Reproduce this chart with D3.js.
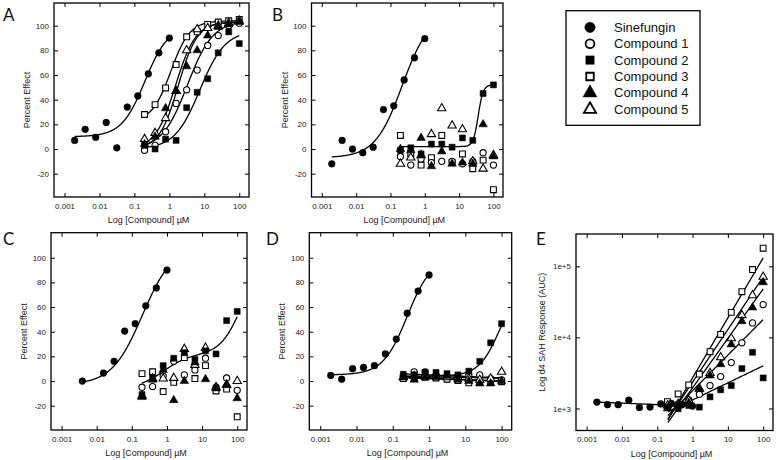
<!DOCTYPE html>
<html><head><meta charset="utf-8">
<script src="https://cdn.jsdelivr.net/npm/d3@7"></script>
<style>body{margin:0;background:#fff}svg{display:block}</style>
</head><body>
<svg id="chart" width="777" height="460"></svg>
<script>
// ---------------- DATA ----------------
const seriesNames = ["Sinefungin", "Compound 1", "Compound 2", "Compound 3", "Compound 4", "Compound 5"];
const concSinefungin = [0.00195, 0.0039, 0.0078, 0.0156, 0.03125, 0.0625, 0.125, 0.25, 0.5, 1];
const concSinefunginC = [0.0039, 0.0156, 0.03125, 0.0625, 0.125, 0.25, 0.5, 1];
const concCompound = [0.195, 0.39, 0.78, 1.56, 3.125, 6.25, 12.5, 25, 50, 100];
const xTickValues = [0.001, 0.01, 0.1, 1, 10, 100];
const xTickLabels = ["0.001", "0.01", "0.1", "1", "10", "100"];
const pctTickValues = [-20, 0, 20, 40, 60, 80, 100];
const logTickValues = [1000, 10000, 100000];
const logTickLabels = ["1e+3", "1e+4", "1e+5"];

// Panel A
const aSinefungin = [7, 16, 9.5, 21.5, 1, 34, 43, 61, 78, 90];
const aCompound1 = [-1, 3, 14, 37, 48, 64, 84, 92, 100, 102];
const aCompound2 = [3, 0, 8, 7, 33.5, 46, 57, 78, 95, 85.5];
const aCompound3 = [28, 36, 49.5, 68.5, 91, 95, 101, 103, 104, 105];
const aCompound4 = [4, 10, 33, 47, 67, 80, 92, 99, 101, 103];
const aCompound5 = [8, 13, 25, 47, 80, 97, 98, 100, 102, 104];
// Panel B
const bSinefungin = [-12, 7, 0, -3, 1.5, 32, 35, 56, 74, 89.5];
const bCompound1 = [-6, -13, -8, -11, -10, -10, -12, -10, -3, -13];
const bCompound2 = [-1, 1, -4, 4, 4, 1.5, 9, 7, 45, 52];
const bCompound3 = [11, -4, -13, -7, 11, -11, -4, -16, -9, -33];
const bCompound4 = [0, -1, 9, -14, -2, -12, -11, -12, 20, -6];
const bCompound5 = [-12, -7, -5, 12, 33, 19, 16, -10, -16, -5];
// Panel C
const cSinefungin = [0, 6.5, 16, 40.5, 46.5, 61, 75.5, 90];
const cCompound1 = [-5, -4.5, 4, 16, 5, 9, 18.5, -5, 2.5, -7.5];
const cCompound2 = [-11, 3, 12.5, 18.5, 23, 17.5, 24.5, 22, 49, 56.5];
const cCompound3 = [6, 7.5, -8.5, -1, 19, 2, 12.5, -8, -6.5, -29];
const cCompound4 = [-13, 1, 9, -15.5, 0, 15, 1.5, -6, -3, -14];
const cCompound5 = [-12, 2, 2, 2.5, 26, 13, 27, -5, -3, 0];
// Panel D
const dSinefungin = [4.5, 1.5, 10, 11, 12.5, 22, 34, 55, 73, 86];
const dCompound1 = [4, 7.5, 7.5, 5, 4, 3, 4.5, 5, 2, 1];
const dCompound2 = [5.5, 5, 7, 7, 6, 5, 8, 16, 31, 46.5];
const dCompound3 = [2, 3, 3, 2.5, 1.5, 0.5, -1.5, -1, -1, -0.5];
const dCompound4 = [3, 1, 3, 3, 4, 1, 0, -2, -2, 0];
const dCompound5 = [3, 4, 5, 4, 3, 3, 2, 1, 2, 7.5];
// Panel E (d4 SAH response, AUC)
const eSinefungin = [1230, 1130, 1130, 1310, 1030, 1045, 1160, 1175, 1125, 1080];
const eCompound1 = [1050, 1150, 1320, 1590, 2100, 2810, 4420, 8400, 16000, 29000];
const eCompound2 = [1030, 990, 1100, 1044, 1457, 1830, 2100, 3640, 6170, 2690];
const eCompound3 = [1250, 1600, 2150, 3050, 6300, 11000, 22500, 44000, 90000, 180000];
const eCompound4 = [1000, 1100, 1200, 1870, 2900, 4180, 7960, 16900, 26300, 59600];
const eCompound5 = [1100, 1150, 1300, 1900, 3150, 5250, 9700, 20500, 39000, 71000];

// Fitted curve parameters: 4PL = [bottom, top, EC50, hill]
const aFitSinefungin = [10, 100, 0.2, 1.3];
const aFitCompound1 = [0, 104, 3.3, 1.2];
const aFitCompound2 = [0, 96, 7.5, 1.2];
const aFitCompound3 = [22, 104, 1.1, 1.6];
const aFitCompound4 = [0, 103, 1.8, 1.6];
const aFitCompound5 = [0, 103, 1.5, 1.5];
const bFitSinefungin = [-7, 110, 0.22, 1.1];
const bFitCompound2 = [2, 52, 36, 6];
const cFitSinefungin = [-3, 110, 0.2, 1];
// biphasic: [bottom, span1, EC50_1, hill1, span2, EC50_2, hill2]
const cFitCompound2 = [-6, 28, 0.8, 1.2, 70, 120, 1.5];
const dFitSinefungin = [5, 100, 0.25, 1.3];
const dFitCompound2 = [4, 80, 90, 1.5];
// linear in log x: [intercept, slope]
const dFitCompound1 = [5, -1.2];
const dFitCompound3 = [2, -1.1];
const dFitCompound4 = [2.5, -1.2];
const dFitCompound5 = [3.5, -0.6];
// log-log lines: log10(y) = a + b*log10(x)
const eFitSinefungin = [3.033, -0.021];
const eFitCompound1 = [3.25, 0.5];
const eFitCompound2 = [3.12, 0.24];
const eFitCompound3 = [3.43, 0.844];
const eFitCompound4 = [3.29, 0.696];
const eFitCompound5 = [3.37, 0.74];

// ---------------- MODELS ----------------
const fourPL = p => x => p[0] + (p[1] - p[0]) / (1 + Math.pow(p[2] / x, p[3]));
const biphasic = p => x => p[0] + p[1] / (1 + Math.pow(p[2] / x, p[3])) + p[4] / (1 + Math.pow(p[5] / x, p[6]));
const linLog = p => x => p[0] + p[1] * Math.log10(x);
const logLog = p => x => Math.pow(10, p[0] + p[1] * Math.log10(x));

// ---------------- LAYOUT ----------------
const svg = d3.select("#chart");
const FONT = "'Liberation Sans', Arial, sans-serif";
const symbolTypes = [d3.symbolCircle, d3.symbolCircle, d3.symbolSquare, d3.symbolSquare, d3.symbolTriangle, d3.symbolTriangle];
const symbolFilled = [true, false, true, false, true, false];
const symbolSizes = [36, 30, 36, 34, 32, 30];

const panels = [
  { letter: "A", box: [54, 249, 3, 197], yDomain: [-38.9, 118.4], log: false, letterPos: [3, 21],
    series: [aSinefungin, aCompound1, aCompound2, aCompound3, aCompound4, aCompound5],
    fits: [[fourPL(aFitSinefungin), 0.00195, 1], [fourPL(aFitCompound1), 0.195, 100], [fourPL(aFitCompound2), 0.195, 100],
           [fourPL(aFitCompound3), 0.195, 100], [fourPL(aFitCompound4), 0.195, 100], [fourPL(aFitCompound5), 0.195, 100]] },
  { letter: "B", box: [311.5, 503, 3, 197], yDomain: [-38.9, 118.4], log: false, letterPos: [272, 21],
    series: [bSinefungin, bCompound1, bCompound2, bCompound3, bCompound4, bCompound5],
    fits: [[fourPL(bFitSinefungin), 0.00195, 1], [fourPL(bFitCompound2), 0.195, 100]] },
  { letter: "C", box: [51, 247, 232.7, 430], yDomain: [-39.7, 120.3], log: false, letterPos: [3, 245], sineConc: concSinefunginC,
    series: [cSinefungin, cCompound1, cCompound2, cCompound3, cCompound4, cCompound5],
    fits: [[fourPL(cFitSinefungin), 0.0039, 1], [biphasic(cFitCompound2), 0.195, 100]] },
  { letter: "D", box: [309.3, 511.7, 232.7, 430], yDomain: [-39.7, 120.3], log: false, letterPos: [266, 245],
    series: [dSinefungin, dCompound1, dCompound2, dCompound3, dCompound4, dCompound5],
    fits: [[fourPL(dFitSinefungin), 0.00195, 1], [fourPL(dFitCompound2), 0.195, 100], [linLog(dFitCompound1), 0.195, 100],
           [linLog(dFitCompound3), 0.195, 100], [linLog(dFitCompound4), 0.195, 100], [linLog(dFitCompound5), 0.195, 100]] },
  { letter: "E", box: [576, 773, 234, 430.5], yDomain: [490, 285000], log: true, letterPos: [536, 245],
    series: [eSinefungin, eCompound1, eCompound2, eCompound3, eCompound4, eCompound5],
    fits: [[logLog(eFitSinefungin), 0.00195, 1], [logLog(eFitCompound1), 0.2, 100], [logLog(eFitCompound2), 0.2, 100],
           [logLog(eFitCompound3), 0.2, 100], [logLog(eFitCompound4), 0.2, 100], [logLog(eFitCompound5), 0.2, 100]] }
];

panels.forEach(p => {
  const [x0, x1, y0, y1] = p.box;
  const x = d3.scaleLog().domain([0.0005, 190]).range([x0, x1]);
  const y = (p.log ? d3.scaleLog() : d3.scaleLinear()).domain(p.yDomain).range([y1, y0]);
  const g = svg.append("g");

  const cid = "clip" + p.letter;
  svg.append("clipPath").attr("id", cid).append("rect").attr("x", x0).attr("y", y0).attr("width", x1 - x0).attr("height", y1 - y0);

  const yt = p.log ? logTickValues : pctTickValues;
  const ax = g.append("g").attr("font-family", FONT);
  ax.append("g").attr("transform", `translate(0,${y1})`)
    .call(d3.axisBottom(x).tickValues(xTickValues).tickFormat((d, i) => xTickLabels[i]).tickSize(-4).tickPadding(6));
  ax.append("g").attr("transform", `translate(0,${y0})`)
    .call(d3.axisTop(x).tickValues(xTickValues).tickFormat("").tickSize(-4));
  ax.append("g").attr("transform", `translate(${x0},0)`)
    .call(d3.axisLeft(y).tickValues(yt).tickFormat((d, i) => p.log ? logTickLabels[i] : d).tickSize(-4).tickPadding(5));
  ax.append("g").attr("transform", `translate(${x1},0)`)
    .call(d3.axisRight(y).tickValues(yt).tickFormat("").tickSize(-4));
  ax.selectAll(".domain").remove();
  ax.selectAll(".tick line").attr("stroke", "#000").attr("stroke-width", 1);
  ax.selectAll(".tick text").attr("font-size", 8).attr("fill", "#222");

  g.append("rect").attr("x", x0).attr("y", y0).attr("width", x1 - x0).attr("height", y1 - y0)
    .attr("fill", "none").attr("stroke", "#000").attr("stroke-width", 1.3);

  const cg = g.append("g").attr("clip-path", `url(#${cid})`);
  p.fits.forEach(([f, a, b]) => {
    const pts = d3.range(0, 201).map(i => {
      const xv = Math.pow(10, Math.log10(a) + (Math.log10(b) - Math.log10(a)) * i / 200);
      return [x(xv), y(f(xv))];
    });
    cg.append("path").attr("d", d3.line()(pts)).attr("fill", "none").attr("stroke", "#000").attr("stroke-width", 1.3);
  });

  const sineConc = p.sineConc || concSinefungin;
  const order = [3, 1, 5, 2, 4, 0];
  order.forEach(si => {
    const vals = p.series[si];
    const conc = si === 0 ? sineConc : concCompound;
    g.append("g").selectAll("path").data(vals).join("path")
      .attr("transform", (d, i) => `translate(${x(conc[i])},${y(d)})`)
      .attr("d", d3.symbol().type(symbolTypes[si]).size(symbolSizes[si]))
      .attr("fill", symbolFilled[si] ? "#000" : "#fff")
      .attr("stroke", "#000").attr("stroke-width", symbolFilled[si] ? 0.5 : 1.1);
  });

  g.append("text").attr("x", (x0 + x1) / 2 - 3).attr("y", y1 + 26).attr("text-anchor", "middle")
    .attr("font-family", FONT).attr("font-size", 9).attr("fill", "#222").text("Log [Compound] \u00B5M");
  const ytx = p.log ? x0 - 31 : x0 - 24;
  g.append("text").attr("transform", `translate(${ytx},${(y0 + y1) / 2}) rotate(-90)`).attr("text-anchor", "middle")
    .attr("font-family", FONT).attr("font-size", 9).attr("fill", "#222")
    .text(p.log ? "Log d4 SAH Response (AUC)" : "Percent Effect");
  g.append("text").attr("x", p.letterPos[0]).attr("y", p.letterPos[1])
    .attr("font-family", "Lato, 'Open Sans', sans-serif").attr("font-size", 17).attr("fill", "#111").text(p.letter);
});

// ---------------- LEGEND ----------------
const lg = svg.append("g");
lg.append("rect").attr("x", 566).attr("y", 10.7).attr("width", 134).attr("height", 114.6)
  .attr("fill", "#fff").attr("stroke", "#000").attr("stroke-width", 1.3);
const legendSizes = [84, 60, 70, 56, 84, 64];
seriesNames.forEach((name, i) => {
  const cy = 27.3 + i * 16.4;
  lg.append("path").attr("transform", `translate(590,${cy})`)
    .attr("d", d3.symbol().type(symbolTypes[i]).size(legendSizes[i]))
    .attr("fill", symbolFilled[i] ? "#000" : "#fff").attr("stroke", "#000").attr("stroke-width", symbolFilled[i] ? 0.5 : 1.8);
  lg.append("text").attr("x", 614).attr("y", cy + 4.5).attr("font-family", FONT).attr("font-size", 13)
    .attr("fill", "#111").text(name);
});
</script>
</body></html>
